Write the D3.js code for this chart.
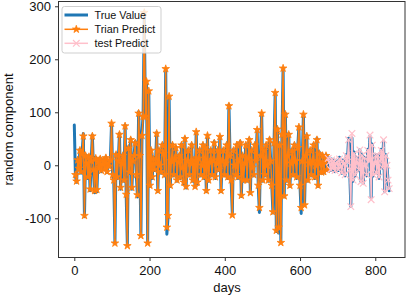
<!DOCTYPE html>
<html><head><meta charset="utf-8">
<script src="https://cdn.jsdelivr.net/npm/d3@7"></script>
<style>
html,body{margin:0;padding:0;background:#fff;}
svg{display:block;font-family:"Liberation Sans",Arial,sans-serif;}
</style></head>
<body><svg id="c" width="408" height="295"></svg>
<script>
// ---- data ----
const DAY_STEP = 3;
const TRUE_START = 0, TRAIN_START = 3, TEST_START = 675;
const trueValue = [
  76, -20, -32, 12, -8, 30, -15, 25, 60, -97,
  20, 5, -25, 18, -48, 10, 57, -10, -52, 15,
  -50, 8, -5, 14, -12, 3, 10, -8, 16, -14,
  6, -3, 12, 79, -20, -30, -147, 22, -25, 10,
  60, -45, 5, 20, -30, 76, -60, -150, 35, -15,
  50, -45, 10, 20, 45, -20, -60, 101, 20, -133,
  60, 98, 282, 95, 158, -145, 140, -40, 30, -25,
  15, -10, 5, 62, -50, 30, 0, -15, 40, 25,
  -20, 182, -130, -100, 130, -40, 10, 40, -20, 15,
  35, -30, 8, 20, -25, 40, -5, -35, 52, -43,
  10, 30, -20, 5, 40, -30, 12, -41, 63, -35,
  15, 30, -20, 0, 40, -25, 35, -50, 56, -30,
  8, 30, -20, 12, 45, -25, 5, 30, -10, 54,
  -50, 10, 30, -20, 5, 40, -25, 114, 20, -30,
  -91, 30, 0, -20, 40, -25, 10, 45, -59, 20,
  -30, 5, 40, -30, 15, 50, -53, 30, -5, -20,
  40, 10, 67, -40, -89, 20, 98, -30, 30, -20,
  40, 0, -30, 50, 10, -40, -90, 45, 137, -125,
  70, -128, 40, -144, 60, 183, -60, 98, -30, 20,
  60, -40, 5, 30, -20, 40, 10, -25, 35, 73,
  -40, -91, 10, 96, -75, 20, 57, -30, 5, 30,
  -20, 10, 40, -25, 0, 51, -40, 25, 5, -15,
  20, -15, 8, 20, -10, 15, 8, -10, 12, -8,
  10, -12, 4, 8, -10, 15, -2, -15, 10, 5,
  -20, 20, 8, 51, -10, -78, 52, -30, 25, -20,
  15, 5, -10, 29, -31, 20, -34, 15, 0, -20,
  30, 10, 55, -62, 40, -20, 5, 20, -15, 20,
  -25, 10, 30, -5, 46, -50, 20, 0, -30, -48
];
const trainPredict = [
  -18, -30, 10, -6, 28, -12, 22, 55, -95,
  18, 4, -22, 16, -45, 8, 55, -8, -48, 13,
  -46, 6, -4, 12, -10, 2, 8, -6, 14, -12,
  5, -2, 10, 79, -18, -28, -147, 20, -22, 8,
  58, -42, 4, 18, -28, 74, -55, -152, 32, -13,
  48, -42, 8, 18, 42, -18, -56, 98, 18, -133,
  56, 92, 288, 92, 158, -147, 140, -38, 28, -22,
  13, -8, 4, 60, -48, 28, 0, -12, 38, 22,
  -18, 182, -117, -95, 130, -38, 8, 38, -18, 13,
  33, -28, 6, 18, -22, 38, -4, -32, 50, -40,
  8, 28, -18, 4, 38, -28, 10, -40, 63, -32,
  13, 28, -18, 0, 38, -22, 33, -48, 56, -28,
  6, 28, -18, 10, 42, -22, 4, 28, -8, 54,
  -48, 8, 28, -18, 4, 38, -22, 112, 18, -28,
  -94, 28, 0, -18, 38, -22, 8, 42, -57, 18,
  -28, 4, 38, -28, 13, 48, -52, 28, -4, -18,
  38, 8, 67, -38, -80, 18, 98, -28, 28, -18,
  38, 0, -28, 48, 8, -38, -88, 42, 137, -123,
  68, -117, 38, -146, 58, 183, -58, 96, -28, 18,
  58, -38, 4, 28, -18, 38, 8, -22, 33, 72,
  -38, -80, 8, 96, -75, 18, 55, -28, 4, 28,
  -18, 8, 38, -22, 0, 48, -38, 22, 4, -13,
  18, -12, 6, 18, -8
];
const testPredict = [
  13, 6, -8, 10, -6,
  8, -10, 3, 6, -8, 12, -2, -14, 8, 4,
  -18, 18, 6, 48, -8, -78, 60, -28, 22, -18,
  14, 4, -8, 29, -31, 18, -34, 14, 0, -18,
  28, 8, 57, -65, 38, -18, 4, 18, -14, 18,
  -22, 8, 28, -4, 48, -50, 18, 0, -28, -44
];
const xTicks = [0, 200, 400, 600, 800];
const xTickLabels = ["0", "200", "400", "600", "800"];
const yTicks = [-100, 0, 100, 200, 300];
const yTickLabels = ["-100", "0", "100", "200", "300"];
const seriesNames = ["True Value", "Trian Predict", "test Predict"];

// ---- layout ----
const L = 58.5, R = 405, T = 1.5, B = 257.5;
const svg = d3.select("#c");
const x = d3.scaleLinear().domain([-42, 879]).range([L, R]);
const y = d3.scaleLinear().domain([-174, 309]).range([B, T]);

const toPts = (arr, start) => arr.map((v, i) => ({d: start + i * DAY_STEP, v}));
const tv = toPts(trueValue, TRUE_START);
const tr = toPts(trainPredict, TRAIN_START);
const te = toPts(testPredict, TEST_START);

svg.append("defs").append("clipPath").attr("id", "clip")
  .append("rect").attr("x", L).attr("y", T).attr("width", R - L).attr("height", B - T);

const line = d3.line().x(p => x(p.d)).y(p => y(p.v));
const g = svg.append("g").attr("clip-path", "url(#clip)");

const BLUE = "#1f77b4", ORANGE = "#ff7f0e", PINK = "#ffc0cb";

g.append("path").datum(tv).attr("d", line).attr("fill", "none")
  .attr("stroke", BLUE).attr("stroke-width", 3).attr("stroke-linejoin", "round").attr("stroke-linecap", "round");

g.append("path").datum(tr).attr("d", line).attr("fill", "none")
  .attr("stroke", ORANGE).attr("stroke-width", 1.5).attr("stroke-linejoin", "round");
const star = d3.symbol().type(d3.symbolStar).size(18);
g.selectAll(".st").data(tr).join("path").attr("class", "st")
  .attr("transform", p => `translate(${x(p.d)},${y(p.v)})`).attr("d", star)
  .attr("fill", ORANGE).attr("stroke", ORANGE).attr("stroke-width", 0.8).attr("stroke-linejoin", "round");

g.append("path").datum(te).attr("d", line).attr("fill", "none")
  .attr("stroke", PINK).attr("stroke-width", 1.5).attr("stroke-linejoin", "round");
const xs = d3.symbol().type(d3.symbolX).size(30);
g.selectAll(".xm").data(te).join("path").attr("class", "xm")
  .attr("transform", p => `translate(${x(p.d)},${y(p.v)})`).attr("d", xs)
  .attr("fill", "none").attr("stroke", PINK).attr("stroke-width", 1.2);

// ---- axes ----
const ax = svg.append("g").attr("transform", `translate(0,${B})`)
  .call(d3.axisBottom(x).tickValues(xTicks).tickFormat((d, i) => xTickLabels[i]).tickSize(3.5).tickSizeOuter(0).tickPadding(4.5));
const ay = svg.append("g").attr("transform", `translate(${L},0)`)
  .call(d3.axisLeft(y).tickValues(yTicks).tickFormat((d, i) => yTickLabels[i]).tickSize(3.5).tickSizeOuter(0).tickPadding(4));
[ax, ay].forEach(a => {
  a.select(".domain").remove();
  a.selectAll("line").attr("stroke", "#333").attr("stroke-width", 1);
  a.selectAll("text").attr("fill", "#111").attr("font-size", 13).attr("font-family", '"Liberation Sans",Arial,sans-serif');
});

svg.append("rect").attr("x", L).attr("y", T).attr("width", R - L).attr("height", B - T)
  .attr("fill", "none").attr("stroke", "#333").attr("stroke-width", 1);

svg.append("text").attr("x", 227).attr("y", 292).attr("text-anchor", "middle")
  .attr("font-size", 13).attr("fill", "#111").text("days");
svg.append("text").attr("transform", "translate(13,129.5) rotate(-90)").attr("text-anchor", "middle")
  .attr("font-size", 13).attr("fill", "#111").text("random component");

// ---- legend ----
const lg = svg.append("g");
lg.append("rect").attr("x", 62).attr("y", 6.5).attr("width", 99).attr("height", 46.5).attr("rx", 2.5)
  .attr("fill", "#fff").attr("fill-opacity", 0.8).attr("stroke", "#cfcfcf").attr("stroke-width", 1);
const ly = [15, 29.3, 43.3];
const lcol = [BLUE, ORANGE, PINK];
const lw = [3, 1.5, 1.5];
seriesNames.forEach((n, i) => {
  lg.append("line").attr("x1", 64.5).attr("x2", 88).attr("y1", ly[i]).attr("y2", ly[i])
    .attr("stroke", lcol[i]).attr("stroke-width", lw[i]);
  if (i === 1) lg.append("path").attr("transform", `translate(76.3,${ly[i]})`).attr("d", star)
    .attr("fill", ORANGE).attr("stroke", ORANGE).attr("stroke-width", 0.8);
  if (i === 2) lg.append("path").attr("transform", `translate(76.3,${ly[i]})`).attr("d", xs)
    .attr("fill", "none").attr("stroke", PINK).attr("stroke-width", 1.2);
  lg.append("text").attr("x", 94.5).attr("y", ly[i] + 3.8).attr("font-size", 10.8).attr("fill", "#111").text(n);
});
</script></body></html>
